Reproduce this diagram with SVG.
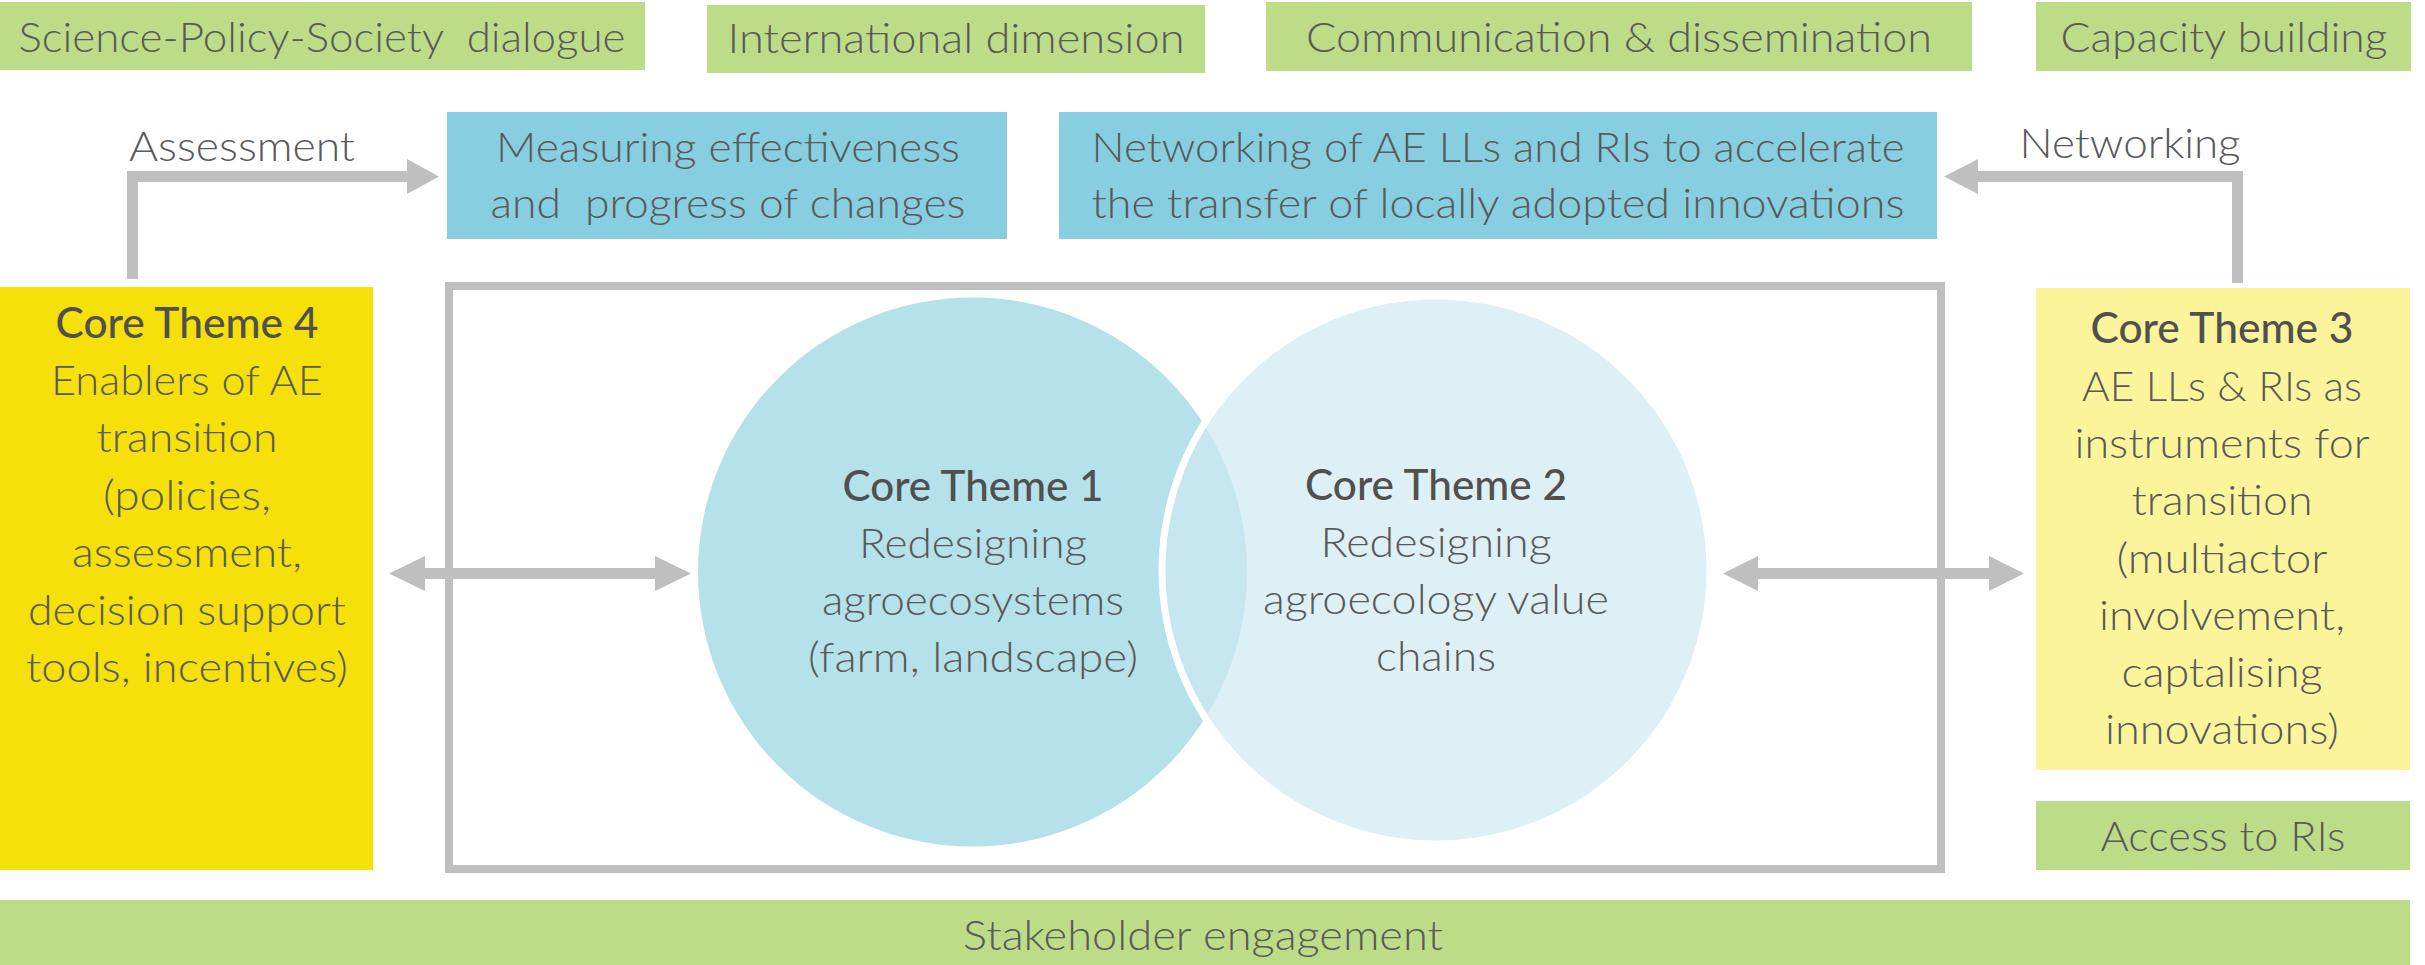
<svg xmlns="http://www.w3.org/2000/svg" width="2425" height="965" viewBox="0 0 2425 965">
<style>
text{font-family:Lato,"Open Sans","Liberation Sans",sans-serif;fill:#595959;font-size:42px;font-weight:300;text-anchor:middle}
.h{font-weight:500;fill:#505050}
.green{fill:#BDDC88}
.blue{fill:#87CEE0}
.conn{fill:none;stroke:#BFBFBF;stroke-width:11}
.head{fill:#BFBFBF}
</style>
<rect width="2425" height="965" fill="#FFFFFF"/>
<g id="science-policy"><rect class="green" x="0" y="2" width="645" height="68"/><text x="322" y="52" textLength="607" lengthAdjust="spacingAndGlyphs">Science-Policy-Society &#160;dialogue</text></g>
<g id="international"><rect class="green" x="707" y="5" width="498" height="68"/><text x="956" y="53" textLength="457" lengthAdjust="spacingAndGlyphs">International dimension</text></g>
<g id="communication"><rect class="green" x="1266" y="2" width="706" height="69"/><text x="1619" y="52" textLength="626" lengthAdjust="spacingAndGlyphs">Communication &amp; dissemination</text></g>
<g id="capacity"><rect class="green" x="2036" y="2" width="375" height="69"/><text x="2224" y="52" textLength="327" lengthAdjust="spacingAndGlyphs">Capacity building</text></g>
<g id="measuring"><rect class="blue" x="447" y="112" width="560" height="127"/><text x="728" y="162" textLength="464" lengthAdjust="spacingAndGlyphs">Measuring effectiveness</text><text x="728" y="218" textLength="475" lengthAdjust="spacingAndGlyphs">and &#160;progress of changes</text></g>
<g id="networking-box"><rect class="blue" x="1059" y="112" width="878" height="127"/><text x="1498" y="162" textLength="813" lengthAdjust="spacingAndGlyphs">Networking of AE LLs and RIs to accelerate</text><text x="1498" y="218" textLength="813" lengthAdjust="spacingAndGlyphs">the transfer of locally adopted innovations</text></g>
<g id="core-frame"><rect x="449" y="286" width="1492" height="583" fill="none" stroke="#BFBFBF" stroke-width="8"/></g>
<g id="core-theme-1"><circle cx="972.5" cy="572" r="274.5" fill="#B5E1EA"/></g>
<g id="core-theme-2"><circle cx="1436" cy="570" r="274" fill="#CDEAF2" fill-opacity="0.7" stroke="#FFFFFF" stroke-width="7"/></g>
<g id="core-theme-1-text"><text class="h" x="973" y="501" textLength="261" lengthAdjust="spacingAndGlyphs">Core Theme 1</text><text x="973" y="558" textLength="228" lengthAdjust="spacingAndGlyphs">Redesigning</text><text x="973" y="615" textLength="302" lengthAdjust="spacingAndGlyphs">agroecosystems</text><text x="973" y="672" textLength="330" lengthAdjust="spacingAndGlyphs">(farm, landscape)</text></g>
<g id="core-theme-2-text"><text class="h" x="1436" y="500" textLength="262" lengthAdjust="spacingAndGlyphs">Core Theme 2</text><text x="1436" y="557" textLength="231" lengthAdjust="spacingAndGlyphs">Redesigning</text><text x="1436" y="614" textLength="346" lengthAdjust="spacingAndGlyphs">agroecology value</text><text x="1436" y="671" textLength="120" lengthAdjust="spacingAndGlyphs">chains</text></g>
<g id="core-theme-4"><rect x="0" y="287" width="373" height="583" fill="#F5E009"/><text class="h" x="187" y="338" textLength="263" lengthAdjust="spacingAndGlyphs">Core Theme 4</text><text x="187" y="395" textLength="272" lengthAdjust="spacingAndGlyphs">Enablers of AE</text><text x="187" y="452" textLength="181" lengthAdjust="spacingAndGlyphs">transition</text><text x="187" y="510" textLength="168" lengthAdjust="spacingAndGlyphs">(policies,</text><text x="187" y="567" textLength="230" lengthAdjust="spacingAndGlyphs">assessment,</text><text x="187" y="625" textLength="318" lengthAdjust="spacingAndGlyphs">decision support</text><text x="187" y="682" textLength="322" lengthAdjust="spacingAndGlyphs">tools, incentives)</text></g>
<g id="core-theme-3"><rect x="2036" y="288" width="374" height="482" fill="#FCF49B"/><text class="h" x="2222" y="343" textLength="263" lengthAdjust="spacingAndGlyphs">Core Theme 3</text><text x="2222" y="401" textLength="280" lengthAdjust="spacingAndGlyphs">AE LLs &amp; RIs as</text><text x="2222" y="458" textLength="295" lengthAdjust="spacingAndGlyphs">instruments for</text><text x="2222" y="515" textLength="181" lengthAdjust="spacingAndGlyphs">transition</text><text x="2222" y="573" textLength="211" lengthAdjust="spacingAndGlyphs">(multiactor</text><text x="2222" y="630" textLength="246" lengthAdjust="spacingAndGlyphs">involvement,</text><text x="2222" y="687" textLength="201" lengthAdjust="spacingAndGlyphs">captalising</text><text x="2222" y="744" textLength="234" lengthAdjust="spacingAndGlyphs">innovations)</text></g>
<g id="access-ris"><rect class="green" x="2036" y="801" width="374" height="69"/><text x="2223" y="851" textLength="245" lengthAdjust="spacingAndGlyphs">Access to RIs</text></g>
<g id="stakeholder"><rect class="green" x="0" y="900" width="2410" height="65"/><text x="1203" y="950" textLength="480" lengthAdjust="spacingAndGlyphs">Stakeholder engagement</text></g>
<g id="connectors">
<polyline class="conn" points="132.5,279 132.5,176.5 408,176.5"/>
<polygon class="head" points="407,159 439,176.5 407,194"/>
<text x="242" y="161" textLength="226" lengthAdjust="spacingAndGlyphs">Assessment</text>
<polyline class="conn" points="2237.5,283 2237.5,176.5 1977,176.5"/>
<polygon class="head" points="1978,159 1944,176.5 1978,194"/>
<text x="2130" y="158" textLength="221" lengthAdjust="spacingAndGlyphs">Networking</text>
<line class="conn" x1="424" y1="573.5" x2="656" y2="573.5"/>
<polygon class="head" points="425,556 389,573.5 425,591"/>
<polygon class="head" points="655,556 691,573.5 655,591"/>
<line class="conn" x1="1757" y1="573.5" x2="1990" y2="573.5"/>
<polygon class="head" points="1758,556 1723,573.5 1758,591"/>
<polygon class="head" points="1989,556 2024,573.5 1989,591"/>
</g>
</svg>
